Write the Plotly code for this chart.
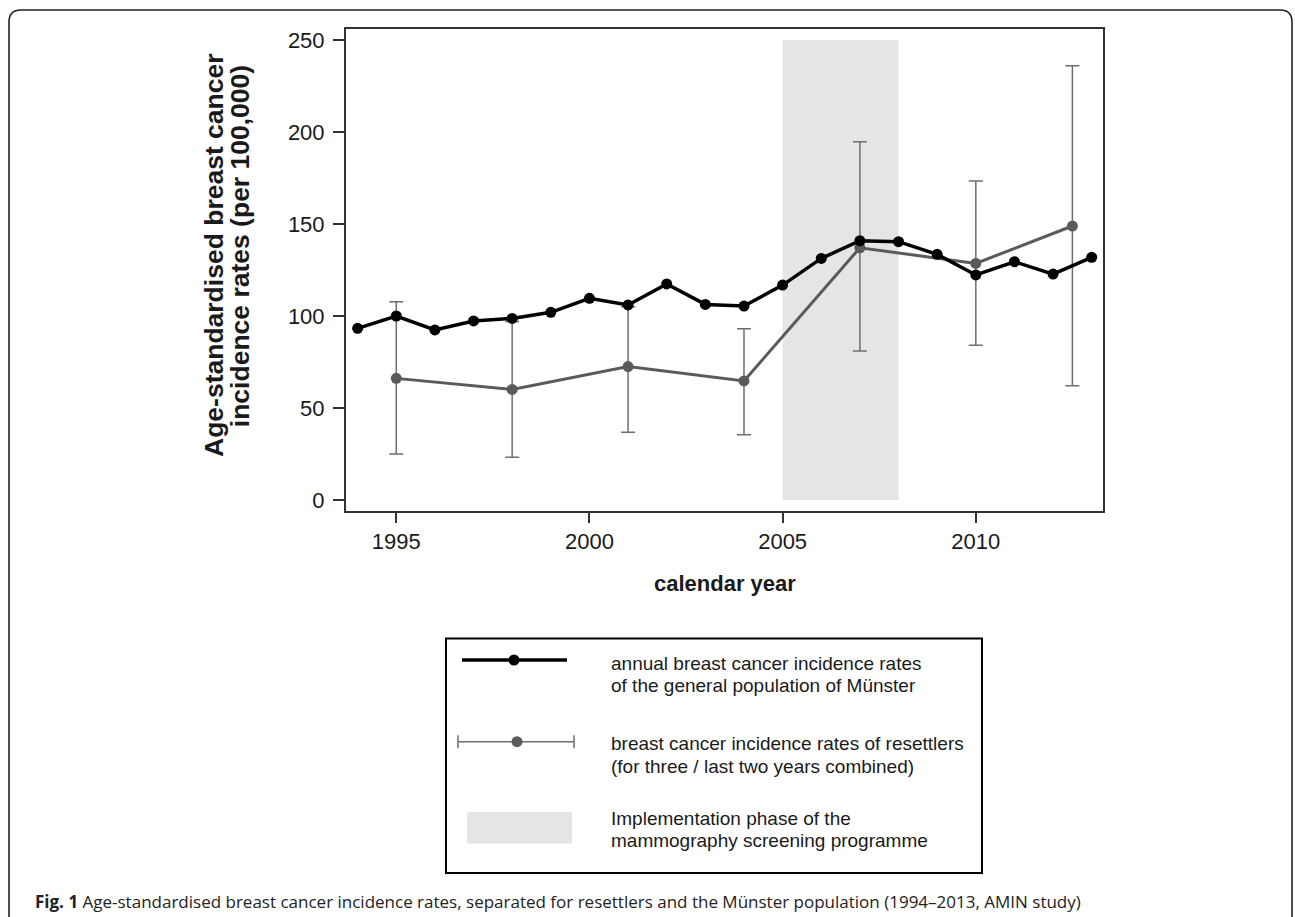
import plotly.graph_objects as go

# ---- data -------------------------------------------------------------
years = list(range(1994, 2014))
munster_rate = [93.3, 100.0, 92.4, 97.3, 98.7, 102.0, 109.6, 106.0, 117.4, 106.3,
                105.4, 116.8, 131.3, 140.9, 140.4, 133.5, 122.3, 129.5, 122.8, 131.9]

resettler_year = [1995, 1998, 2001, 2004, 2007, 2010, 2012.5]
resettler_rate = [66.1, 60.1, 72.5, 64.7, 137.1, 128.6, 148.9]
resettler_upper = [107.8, 97.0, 105.0, 93.1, 194.7, 173.4, 236.0]
resettler_lower = [25.0, 23.2, 36.8, 35.5, 81.0, 84.1, 62.1]

screening_phase = [2005, 2008]
screening_span = [0, 250]

x_ticks = [1995, 2000, 2005, 2010]
y_ticks = [0, 50, 100, 150, 200, 250]

legend_lines = [
    ["annual breast cancer incidence rates", "of the general population of Münster"],
    ["breast cancer incidence rates of resettlers", "(for three / last two years combined)"],
    ["Implementation phase of the", "mammography screening programme"],
]
caption = ("<b>Fig. 1</b> Age-standardised breast cancer incidence rates, separated for "
           "resettlers and the Münster population (1994–2013, AMIN study)")

# ---- page geometry (pixels) -------------------------------------------
W, H = 1295, 917
ML, MR, MT, MB = 346, 192, 29, 406
PW, PH = W - ML - MR, H - MT - MB


def px(x):
    return (x - ML) / PW


def py(y):
    return (H - MB - y) / PH


ARIAL = "Arial, 'Liberation Sans', sans-serif"
BLACK = "#000000"
GREY = "#5a5a5a"
ERR = "#6e6e6e"
SHADE = "#e5e5e5"
AXIS = "#333333"
TEXT = "#1a1a1a"

err_plus = [u - r for u, r in zip(resettler_upper, resettler_rate)]
err_minus = [r - l for r, l in zip(resettler_rate, resettler_lower)]

fig = go.Figure()

fig.add_trace(go.Scatter(
    x=resettler_year, y=resettler_rate, mode="lines+markers",
    line=dict(color=GREY, width=3),
    marker=dict(color=GREY, size=11),
    error_y=dict(type="data", array=err_plus, arrayminus=err_minus,
                 color=ERR, thickness=1.5, width=7),
    name="resettlers",
))
fig.add_trace(go.Scatter(
    x=years, y=munster_rate, mode="lines+markers",
    line=dict(color=BLACK, width=3.5),
    marker=dict(color=BLACK, size=11),
    name="Münster",
))

shapes = [
    dict(type="rect", xref="x", yref="y",
         x0=screening_phase[0], x1=screening_phase[1],
         y0=screening_span[0], y1=screening_span[1],
         fillcolor=SHADE, line=dict(width=0), layer="below"),
]

# outer rounded frame
r = 12
x0b, x1b, y0b, y1b = 9, 1292, 10, 940
path = (f"M {px(x0b)},{py(y1b)} L {px(x0b)},{py(y0b + r)} "
        f"Q {px(x0b)},{py(y0b)} {px(x0b + r)},{py(y0b)} "
        f"L {px(x1b - r)},{py(y0b)} "
        f"Q {px(x1b)},{py(y0b)} {px(x1b)},{py(y0b + r)} "
        f"L {px(x1b)},{py(y1b)}")
shapes.append(dict(type="path", xref="paper", yref="paper", path=path,
                   line=dict(color="#222222", width=1.6)))

# legend box
shapes.append(dict(type="rect", xref="paper", yref="paper",
                   x0=px(446), x1=px(982), y0=py(873), y1=py(638.5),
                   line=dict(color=BLACK, width=2)))
# entry 1: black line with dot
shapes.append(dict(type="line", xref="paper", yref="paper",
                   x0=px(462), x1=px(567), y0=py(660), y1=py(660),
                   line=dict(color=BLACK, width=3.5)))
shapes.append(dict(type="circle", xref="paper", yref="paper",
                   x0=px(514 - 5.5), x1=px(514 + 5.5), y0=py(660 + 5.5), y1=py(660 - 5.5),
                   fillcolor=BLACK, line=dict(width=0)))
# entry 2: grey error bar with dot
ly = 741.7
shapes.append(dict(type="line", xref="paper", yref="paper",
                   x0=px(458), x1=px(574), y0=py(ly), y1=py(ly),
                   line=dict(color=ERR, width=1.5)))
for cx in (458, 574):
    shapes.append(dict(type="line", xref="paper", yref="paper",
                       x0=px(cx), x1=px(cx), y0=py(ly - 6.5), y1=py(ly + 6.5),
                       line=dict(color=ERR, width=1.5)))
shapes.append(dict(type="circle", xref="paper", yref="paper",
                   x0=px(517 - 5.5), x1=px(517 + 5.5), y0=py(ly + 5.5), y1=py(ly - 5.5),
                   fillcolor=GREY, line=dict(width=0)))
# entry 3: shaded block
shapes.append(dict(type="rect", xref="paper", yref="paper",
                   x0=px(467), x1=px(572), y0=py(843.5), y1=py(812),
                   fillcolor=SHADE, line=dict(width=0)))

annotations = []
# axis titles
annotations.append(dict(xref="paper", yref="paper", x=px(214), y=py(255),
                        text="<b>Age-standardised breast cancer</b>", textangle=-90,
                        showarrow=False, xanchor="center", yanchor="middle",
                        font=dict(family=ARIAL, size=26.5, color=TEXT)))
annotations.append(dict(xref="paper", yref="paper", x=px(239.5), y=py(246.7),
                        text="<b>incidence rates (per 100,000)</b>", textangle=-90,
                        showarrow=False, xanchor="center", yanchor="middle",
                        font=dict(family=ARIAL, size=26.5, color=TEXT)))
annotations.append(dict(xref="paper", yref="paper", x=px(724.5), y=py(583.5),
                        text="<b>calendar year</b>", showarrow=False,
                        xanchor="center", yanchor="middle",
                        font=dict(family=ARIAL, size=22, color=TEXT)))

# legend texts
legend_y = [(663.3, 685.0), (743.0, 766.7), (818.3, 840.0)]
for lines, ys in zip(legend_lines, legend_y):
    for t, yy in zip(lines, ys):
        annotations.append(dict(xref="paper", yref="paper", x=px(608.5), y=py(yy),
                                text=t, showarrow=False, xanchor="left", yanchor="middle",
                                font=dict(family=ARIAL, size=19, color=TEXT)))

# caption
annotations.append(dict(xref="paper", yref="paper", x=px(33), y=py(901.5),
                        text=caption, showarrow=False, xanchor="left", yanchor="middle",
                        font=dict(family="'Open Sans', sans-serif", size=17, color="#222222")))

axis_common = dict(showline=True, linewidth=2, linecolor=AXIS, mirror=True,
                   ticks="outside", tickwidth=2, tickcolor=AXIS,
                   showgrid=False, zeroline=False,
                   tickfont=dict(family=ARIAL, size=22, color=TEXT))

fig.update_layout(
    width=W, height=H,
    margin=dict(l=ML, r=MR, t=MT, b=MB),
    paper_bgcolor="white", plot_bgcolor="white",
    showlegend=False,
    xaxis=dict(range=[1993.699, 2013.292], tickvals=x_ticks, ticklen=10, **axis_common),
    yaxis=dict(range=[-5.98, 255.98], tickvals=y_ticks, ticklen=11,
               ticklabelstandoff=4, **axis_common),
    shapes=shapes,
    annotations=annotations,
)

fig.write_html("out.html")
